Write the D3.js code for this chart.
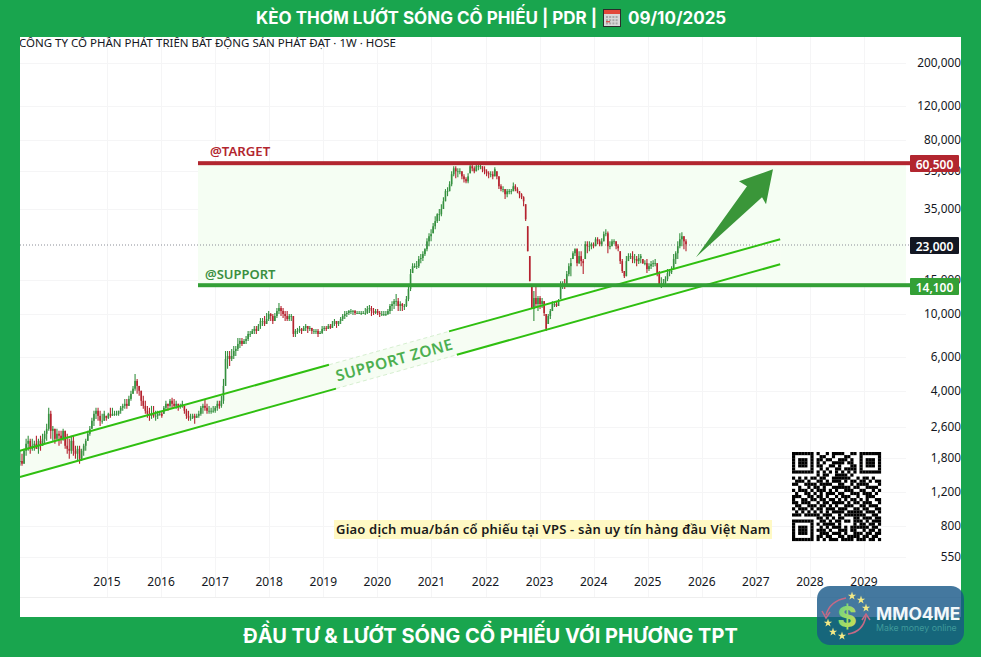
<!DOCTYPE html>
<html><head><meta charset="utf-8">
<script src="https://cdn.jsdelivr.net/npm/d3@7"></script>
<style>html,body{margin:0;padding:0;background:#fff}svg{display:block}</style>
</head><body><svg id="c" width="981" height="657"></svg>
<script>
const firstBarYear = 2013.39, lastBarYear = 2025.708;
const yearTicks = [2015,2016,2017,2018,2019,2020,2021,2022,2023,2024,2025,2026,2027,2028,2029];
const priceTicks = [200000,120000,80000,55000,35000,15000,10000,6000,4000,2600,1800,1200,800,550];
const highs = [1955,1887,2000,2255,2340,2255,2255,2200,2340,2255,2340,2394,2480,2697,3265,3150,2630,2540,2540,2480,2480,2540,2480,2394,2255,
2340,2340,2075,2075,2075,2000,2125,2255,2480,2630,2895,3150,3265,3265,3150,3038,3150,2965,3075,3265,3265,3150,3150,3150,3340,
3423,3630,3630,3765,4000,4240,4893,4610,4240,4000,3765,3550,3340,3265,3340,3340,3150,3150,3150,3150,3340,3550,3423,3630,3675,
3630,3550,3423,3423,3550,3340,3225,3150,3038,3038,3038,3038,3150,3340,3423,3590,3423,3340,3265,3340,3340,3550,3550,3765,4610,
6430,6430,6430,6590,6830,6830,7510,7510,7510,7420,7690,8170,8170,8370,8670,8670,8877,9530,9530,9760,10120,10360,10120,10000,10120,
10740,11400,11000,10740,10360,10360,10000,10000,9760,8370,8470,8670,8470,8670,8877,8670,8670,8470,8370,8370,8370,8170,8670,8670,8670,
8877,8877,9200,9420,9200,9200,9650,10000,10360,10360,10490,10620,10490,10490,10360,10360,10360,10360,10740,11000,11130,11000,10740,10620,10620,
10360,10360,10360,10360,10620,11265,11660,11950,12690,12100,11660,11400,11265,12400,14300,17100,18350,18350,18800,19960,20440,21150,21900,24700,26200,
27500,29600,32100,33300,35000,37080,40300,44400,45400,48700,54900,58300,58300,56900,56900,54900,53000,51100,53600,59700,59700,58300,59700,59700,59700,
58300,58300,56300,54900,54900,54900,57600,54900,51700,47050,45950,44400,44400,44400,44400,48100,47050,45400,43300,42300,40800,37080,28500,19960,13960,
13150,14300,12400,12400,12100,11660,10000,10000,10620,11660,11660,11660,11950,14800,14800,15180,16700,18350,19500,21150,21900,21900,21150,21150,19270,
23800,23800,23800,23500,23500,25000,25000,24400,24700,26800,27500,26800,23800,24400,24400,23800,23000,21150,19270,16700,19960,20650,20650,21150,20440,
19960,20440,20440,19270,19000,19270,18350,18800,19000,19270,18350,16700,15520,15180,15700,17100,17100,17700,20440,21150,23800,26200,26500,25300,24400];
const lows = [1635,1635,1675,1840,1955,1887,1955,1955,2000,1887,1955,2075,2125,2200,2480,2255,2200,2125,2200,2075,2125,2200,2000,1887,1775,
1887,1840,1775,1730,1675,1730,1840,1955,2200,2340,2540,2630,2860,2795,2630,2697,2795,2795,2860,2895,2965,2965,2965,2965,3038,
3150,3225,3225,3340,3550,3856,4000,3856,3765,3340,3225,3038,2895,2795,2860,2895,2795,2860,2965,2895,3038,3150,3150,3265,3225,
3265,3225,3150,3225,3265,3038,2860,2795,2795,2860,2697,2895,2895,2965,3038,3150,3038,3038,3038,3075,3075,3150,3225,3265,3423,
4240,5200,5380,5710,5850,6060,6430,6670,6830,6995,6995,7250,7600,7880,7880,7880,8170,8370,8670,8670,8877,9200,9200,8877,9200,
9530,10000,9760,9530,9200,9200,9200,9200,7600,7600,7880,7980,7880,8170,8170,7980,8170,7880,7880,7880,7600,7880,7880,8170,8170,
8370,8370,8470,8670,8470,8670,8877,9200,9420,9650,9880,10000,9880,9880,10000,10000,9880,10000,9880,10000,10120,9760,9880,10000,9880,
9650,9760,9760,9760,9880,10000,10360,10620,11000,10360,10360,10360,10490,10870,11660,13150,16300,17300,17100,17300,18350,18800,19960,21150,22460,
23800,26200,27500,29600,30300,32100,35000,38400,40800,43300,45950,51700,50500,51100,53000,50000,48100,47600,47600,53600,54900,53600,54900,55600,56300,
54300,53000,51700,50500,51100,50000,51700,50000,44400,43300,42800,39400,40300,41770,41770,43300,43300,42300,39800,39400,36200,30300,21150,14800,10620,
9200,10740,10360,10620,10740,9760,8170,8877,9420,10360,10870,10870,11000,11950,13480,13480,14300,15700,15700,19270,19960,17700,18140,17700,16100,
19270,20650,21150,21680,21900,22460,23000,22460,22460,23800,25300,20650,21680,22460,23000,21680,21150,18140,16300,15350,15700,18800,19270,18350,18350,
17700,18140,18350,18140,17900,16300,16700,17100,17500,17700,15700,13960,13640,13960,14300,14800,15700,16100,17100,18140,19270,21900,22460,21680,21150];
const closes = [1730,1675,1955,2125,2200,2000,2075,2125,2000,2200,2075,2255,2394,2540,3038,2480,2540,2255,2394,2340,2255,2480,2075,2000,1955,
2200,1955,1887,2000,1775,1955,2075,2200,2394,2540,2795,3038,3150,2965,2795,2795,3038,2895,3038,2965,3038,3038,3038,3150,3265,
3340,3423,3340,3630,3856,4100,4500,4240,4000,3550,3340,3150,3038,2965,3038,2965,2965,3038,3038,2965,3265,3423,3340,3550,3423,
3340,3423,3340,3340,3423,3150,2965,2895,2895,2965,2895,2965,3038,3265,3340,3265,3150,3150,3150,3150,3265,3423,3340,3550,4240,
5850,6060,5850,6060,6430,6590,6995,7250,6995,7250,7420,7880,7880,8170,8370,8170,8670,9200,9200,8877,9420,10000,9760,9200,9760,
10360,10740,10360,10000,9760,9420,9760,9760,7880,8170,8170,8370,8170,8470,8670,8370,8470,8170,8170,8170,7880,7980,8370,8470,8370,
8670,8470,8877,9200,8877,9200,9420,9760,10000,10120,10360,10360,10360,10120,10120,10120,10120,10120,10120,10620,10740,10360,10120,10360,10120,
10000,10000,10000,10000,10360,11000,11265,11660,11660,11000,11265,11000,11000,11950,13480,16100,17700,17700,17700,19270,19500,20440,21680,23800,25300,
25940,28500,30300,32900,32900,35000,38400,43300,43300,47050,53000,56900,54900,54900,54900,51700,50000,48700,51700,58300,56900,54900,58300,58300,58300,
56300,54900,53600,53000,53000,51700,56300,51700,45950,44400,44400,41770,43300,43300,43300,45950,44400,43300,41770,40300,38400,31000,21150,14800,10620,
12100,11265,12100,11265,11660,10120,8370,9760,10360,11265,11265,11000,11660,13960,14300,13960,16100,17700,18350,20650,21680,18350,19960,18800,18350,
23000,22460,22460,23000,22460,24400,23800,23000,23800,25940,26200,22460,22460,23800,23800,22460,21900,18800,16700,15700,18800,19960,19960,19270,19270,
18800,19500,19960,18350,18350,17100,17700,18140,18350,18350,16300,14300,14300,14470,15180,16300,16700,16700,19270,20650,22460,24400,25300,23800,23000];
const targetPrice = 60500, supportPrice = 14100, lastPrice = 23000;
const bandYears = [2016.683, 2029.777], levelEndYear = 2029.851;
const channelYears = [2013.39, 2027.45];
const upperPrices = [1955, 24400], lowerPrices = [1428, 18100];
const upperGapYears = [2019.105, 2021.325], lowerGapYears = [2019.235, 2021.47];
const arrowYears = [2027.317,2026.688,2026.836,2025.893,2027.114,2027.188];
const arrowPrices = [56300,48700,45950,19700,40300,37080];
const titleTop = "KÈO THƠM LƯỚT SÓNG CỔ PHIẾU | PDR |", titleDate = "09/10/2025";
const titleBottom = "ĐẦU TƯ & LƯỚT SÓNG CỔ PHIẾU VỚI PHƯƠNG TPT";
const chartName = "CÔNG TY CỔ PHẦN PHÁT TRIỂN BẤT ĐỘNG SẢN PHÁT ĐẠT · 1W · HOSE";
const qrRows = ["11111110100101111001101111111","10000010011001000110001000001","10111010110110011101001011101","10111010101001111011001011101","10111010110011010001101011101","10000010010100110111101000001","11111110101010101010101111111","00000000101100111101000000000","10101011011001111110010110100","01110100110101110101101101011","11001111011110011001011110001","00100101101001111110110011110","10111010111010100111001100101","01001101010111011001110111010","11100110110100101110010011100",
"10011011011011010101101010011","11011100101101111010110111001","01100111011010100111001101110","10111010110111011100110110011","01010101010101111011111011101","11101111101110010111111100110","00000000110101011000110111011","11111110011010110110111010111","10000010101111010000101101101","10111010010101110101111110110","10111010111010011101100101101","10111010011101110100111011011","10000010110110011011110110110","11111110101011101111011101101"];

const F = "'Noto Sans',sans-serif";
const GREEN_FRAME = "#19a54e", RED = "#b2262f", GREEN = "#33a036", UP = "#35903f", DOWN = "#b5232f", CH = "#2fbf10";
const x = d3.scaleLinear().domain([2015,2029]).range([107,864]);
const y = d3.scaleLog().domain([200000,10000]).range([63,314]);
const barYear = d3.scaleLinear().domain([0,highs.length-1]).range([firstBarYear,lastBarYear]);
const svg = d3.select("#c");
svg.append("rect").attr("width",981).attr("height",657).attr("fill","#fff");

// grid
const grid = svg.append("g").attr("stroke","#f5f5f6").attr("stroke-width",1);
grid.selectAll("line.v").data(yearTicks).join("line").attr("x1",d=>Math.round(x(d))+.5).attr("x2",d=>Math.round(x(d))+.5).attr("y1",37).attr("y2",597);
grid.selectAll("line.h").data(priceTicks).join("line").attr("x1",20).attr("x2",906).attr("y1",d=>Math.round(y(d))+.5).attr("y2",d=>Math.round(y(d))+.5);
svg.append("line").attr("x1",20).attr("x2",961).attr("y1",597.5).attr("y2",597.5).attr("stroke","#eeeeee");

// band
svg.append("rect").attr("x",x(bandYears[0])).attr("width",x(bandYears[1])-x(bandYears[0]))
  .attr("y",y(targetPrice)).attr("height",y(supportPrice)-y(targetPrice)).attr("fill","#f5fef3");

// channel
const chX = channelYears.map(x), upY = upperPrices.map(y), loY = lowerPrices.map(y);
const onLine = (ys, yr) => ys[0] + (ys[1]-ys[0])*(x(yr)-chX[0])/(chX[1]-chX[0]);
svg.append("polygon").attr("points",[[chX[0],upY[0]],[chX[1],upY[1]],[chX[1],loY[1]],[chX[0],loY[0]]].map(p=>p.join(",")).join(" ")).attr("fill","#f6fdf3");
function chSeg(ys,a,b,dash){
  const l = svg.append("line").attr("x1",x(a)).attr("y1",onLine(ys,a)).attr("x2",x(b)).attr("y2",onLine(ys,b));
  if(dash) l.attr("stroke","#d6efd0").attr("stroke-width",1).attr("stroke-dasharray","4 3");
  else l.attr("stroke",CH).attr("stroke-width",2);
}

// dotted last price
svg.append("line").attr("x1",20).attr("x2",910).attr("y1",y(lastPrice)+.8).attr("y2",y(lastPrice)+.8)
  .attr("stroke","#8a8d96").attr("stroke-width",1).attr("stroke-dasharray","1 2");

// candles
const idx = d3.range(highs.length);
const openOf = i => i===0 ? closes[0] : Math.min(highs[i],Math.max(lows[i],closes[i-1]));
const col = i => closes[i] >= openOf(i) ? UP : DOWN;
const cg = svg.append("g");
cg.selectAll("line").data(idx).join("line")
  .attr("x1",i=>x(barYear(i))).attr("x2",i=>x(barYear(i)))
  .attr("y1",i=>y(highs[i])).attr("y2",i=>y(lows[i]))
  .attr("stroke",col).attr("stroke-width",1.1);
cg.selectAll("rect").data(idx).join("rect")
  .attr("x",i=>x(barYear(i))-.8).attr("width",1.6)
  .attr("y",i=>Math.min(y(openOf(i)),y(closes[i])))
  .attr("height",i=>Math.max(.8,Math.abs(y(openOf(i))-y(closes[i]))))
  .attr("fill",col);

// channel lines
chSeg(upY,channelYears[0],upperGapYears[0]); chSeg(upY,upperGapYears[1],channelYears[1]); chSeg(upY,upperGapYears[0],upperGapYears[1],true);
chSeg(loY,channelYears[0],lowerGapYears[0]); chSeg(loY,lowerGapYears[1],channelYears[1]); chSeg(loY,lowerGapYears[0],lowerGapYears[1],true);
const zoneYear = 2020.31;
svg.append("text").text("SUPPORT ZONE")
  .attr("transform",`translate(${x(zoneYear)},${(onLine(upY,zoneYear)+onLine(loY,zoneYear))/2}) rotate(-15.5)`)
  .attr("text-anchor","middle").attr("dominant-baseline","central")
  .attr("font-family",F).attr("font-size",15.5).attr("font-weight",600).attr("letter-spacing",.4)
  .attr("fill","#4caf50");

// levels
[[targetPrice,RED],[supportPrice,GREEN]].forEach(([p,c])=>{
  svg.append("rect").attr("x",x(bandYears[0])).attr("width",x(levelEndYear)-x(bandYears[0])).attr("y",y(p)-2).attr("height",4).attr("fill",c);
});
svg.append("text").text("@TARGET").attr("x",x(bandYears[0])+12).attr("y",y(targetPrice)-7).attr("font-family",F).attr("font-size",13.2).attr("font-weight",600).attr("fill",RED);
svg.append("text").text("@SUPPORT").attr("x",x(bandYears[0])+7).attr("y",y(supportPrice)-6).attr("font-family",F).attr("font-size",13).attr("font-weight",600).attr("fill","#3a8f3f");

// arrow
svg.append("polygon").attr("points",arrowYears.map((a,i)=>x(a)+","+y(arrowPrices[i])).join(" ")).attr("fill","#3a9639");

// axes
const yAxis = d3.axisLeft(y).tickValues(priceTicks).tickFormat(d3.format(",")).tickSize(0).tickPadding(0);
const yg = svg.append("g").attr("transform","translate(961,0)").call(yAxis);
yg.select(".domain").remove();
yg.selectAll("text").attr("font-family",F).attr("font-size",11.8).attr("fill","#131722");
const xAxis = d3.axisBottom(x).tickValues(yearTicks).tickFormat(d3.format("d")).tickSize(0).tickPadding(0);
const xg = svg.append("g").attr("transform","translate(-0.5,577)").call(xAxis);
xg.select(".domain").remove();
xg.selectAll("text").attr("font-family",F).attr("font-size",12).attr("fill","#131722");

// price tags
[[targetPrice,RED,.4],[lastPrice,"#131722",1.3],[supportPrice,GREEN,1.3]].forEach(([p,c,dy])=>{
  const cy = y(p)+dy;
  svg.append("rect").attr("x",910).attr("y",cy-8.5).attr("width",49).attr("height",17).attr("rx",1).attr("fill",c);
  svg.append("text").text(d3.format(",")(p)).attr("x",934.5).attr("y",cy+.5).attr("text-anchor","middle").attr("dominant-baseline","central")
    .attr("font-family",F).attr("font-size",12).attr("font-weight",600).attr("fill","#fff");
});

// note
svg.append("rect").attr("x",334).attr("y",520).attr("width",438).attr("height",19).attr("fill","#fff9c4");
svg.append("text").text("Giao dịch mua/bán cổ phiếu tại VPS - sàn uy tín hàng đầu Việt Nam").attr("x",336).attr("y",534)
  .attr("font-family",F).attr("font-size",13).attr("font-weight",600).attr("fill","#1a1a1a").attr("letter-spacing",.2);

// QR
const qrSize = 89/29, qr = svg.append("g").attr("transform","translate(792,452)");
qrRows.forEach((r,ri)=>[...r].forEach((c,ci)=>{ if(c==="1") qr.append("rect").attr("x",ci*qrSize).attr("y",ri*qrSize).attr("width",qrSize+.1).attr("height",qrSize+.1).attr("fill","#000"); }));

// chart name, then frame over it
svg.append("text").text(chartName).attr("x",19).attr("y",47).attr("font-family",F).attr("font-size",11.5).attr("fill","#131722");
[[0,0,981,37],[0,617,981,40],[0,0,20,657],[961,0,20,657]].forEach(r=>svg.append("rect").attr("x",r[0]).attr("y",r[1]).attr("width",r[2]).attr("height",r[3]).attr("fill",GREEN_FRAME));

const TF = "Inter,sans-serif";
svg.append("text").text(titleTop).attr("x",256).attr("y",24).attr("font-family",TF).attr("font-size",17).attr("font-weight",700).attr("fill","#fff");
svg.append("text").text(titleDate).attr("x",628).attr("y",24).attr("font-family",TF).attr("font-size",17).attr("font-weight",700).attr("fill","#fff");
svg.append("text").text(titleBottom).attr("x",490.5).attr("y",643).attr("text-anchor","middle").attr("font-family",TF).attr("font-size",20).attr("font-weight",700).attr("fill","#fff");
// calendar icon
const cal = svg.append("g").attr("transform","translate(603,9)");
cal.append("rect").attr("width",18).attr("height",18).attr("fill","#2b2b2b");
cal.append("rect").attr("x",1).attr("y",1).attr("width",16).attr("height",4).attr("fill","#e2483a");
cal.append("rect").attr("x",1).attr("y",5).attr("width",16).attr("height",12).attr("fill","#d9d9d9");
d3.range(3).forEach(r=>d3.range(4).forEach(c=>cal.append("rect").attr("x",3+c*3.2).attr("y",7+r*3.2).attr("width",2).attr("height",2).attr("fill","#a9a9a9")));
cal.append("rect").attr("x",3).attr("y",12).attr("width",4).attr("height",1.4).attr("fill","#d9534f");

// logo
const defs = svg.append("defs");
const gr = defs.append("linearGradient").attr("id","dg").attr("x1",0).attr("y1",0).attr("x2",1).attr("y2",1);
gr.append("stop").attr("offset","0").attr("stop-color","#5fd08a");
gr.append("stop").attr("offset","1").attr("stop-color","#d8e24a");
svg.append("rect").attr("x",817).attr("y",586).attr("width",147).attr("height",59).attr("rx",13).attr("fill","rgba(21,86,135,.8)");
svg.append("text").text("$").attr("x",847).attr("y",627).attr("text-anchor","middle").attr("font-family",TF).attr("font-size",29).attr("font-weight",800).attr("fill","url(#dg)");
svg.append("path").attr("d","M846 598 Q830 601 826 615").attr("fill","none").attr("stroke","#c46a86").attr("stroke-width",1.5);
svg.append("path").attr("d","M822 611 L826 618 L830 612").attr("fill","none").attr("stroke","#c46a86").attr("stroke-width",1.5);
svg.append("path").attr("d","M848 634 Q863 632 866 616").attr("fill","none").attr("stroke","#c46a86").attr("stroke-width",1.5);
svg.append("path").attr("d","M862 620 L866 614 L870 620").attr("fill","none").attr("stroke","#c46a86").attr("stroke-width",1.5);
[[852,596],[861,600],[866,608],[828,623],[833,632],[842,636]].forEach(p=>svg.append("path").attr("d",d3.symbol(d3.symbolStar,22)()).attr("transform",`translate(${p})`).attr("fill","#f2e985"));
svg.append("text").text("MMO4ME").attr("x",876).attr("y",620).attr("font-family",TF).attr("font-size",17.4).attr("font-weight",700).attr("fill","#f2f8fa");
svg.append("text").text("Make money online").attr("x",876).attr("y",631).attr("font-family",TF).attr("font-size",8.8).attr("fill","#3f9a9a");
</script></body></html>
